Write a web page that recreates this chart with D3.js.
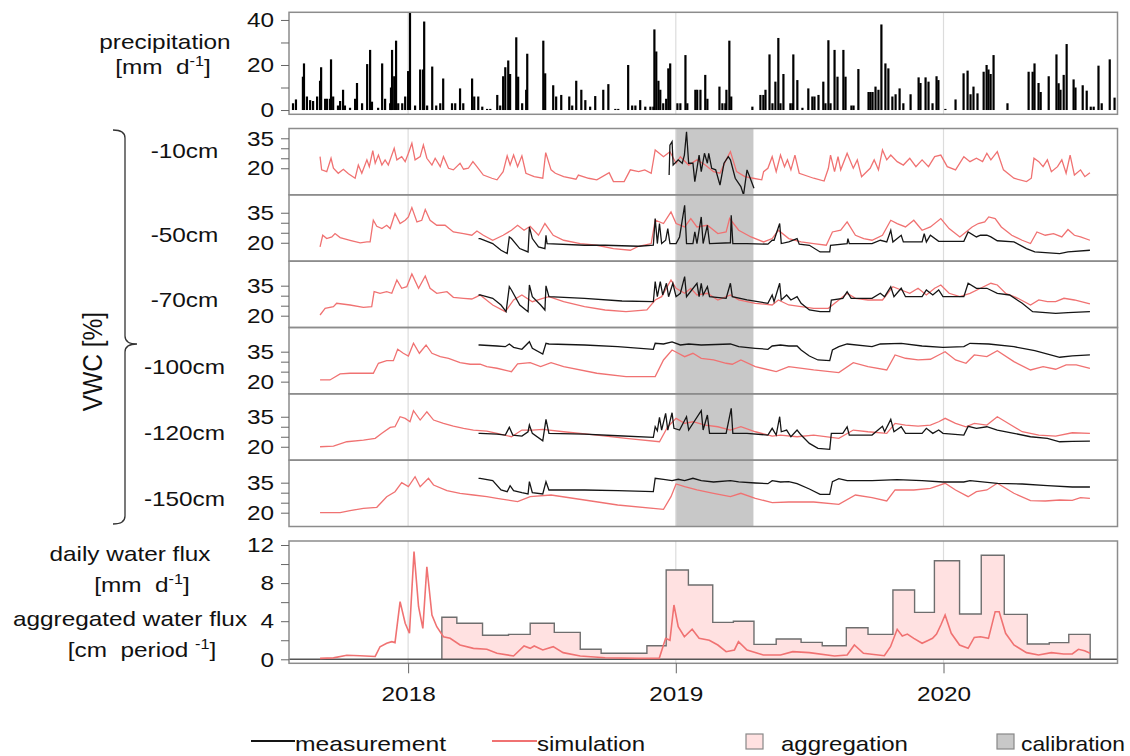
<!DOCTYPE html>
<html lang="en">
<head>
<meta charset="utf-8">
<title>Precipitation, soil water content and water flux</title>
<script src="https://cdn.jsdelivr.net/npm/d3@7"></script>
<style>
  body { margin: 0; background: #fff; }
  svg text { font-family: "Liberation Sans", Arial, sans-serif; fill: #111; }
</style>
</head>
<body>
<svg id="chart" width="1130" height="756"></svg>
<script>

// ---- data (time as decimal year) ----
var xDomain = [2017.555, 2020.65];
var yearTicks = [2018, 2019, 2020];
var calibration = [2019.0, 2019.29];

var precipTicks = [0, 10, 20, 30, 40];
var precipLabels = [0, 20, 40];
var vwcTicks = [20, 25, 30, 35];
var vwcLabels = [20, 35];
var fluxTicks = [0, 2, 4, 6, 8, 10, 12];
var fluxLabels = [0, 4, 8, 12];

var depths = ["-10cm", "-50cm", "-70cm", "-100cm", "-120cm", "-150cm"];
var vwcDomains = [[6.7, 39.9], [10.8, 43.95], [14.1, 47.25], [13.9, 47.1], [13.3, 46.45], [13.1, 46.25]];

var precip = [[2017.570,3],[2017.581,4.7],[2017.607,14.8],[2017.611,20.7],[2017.622,6],[2017.634,4.4],[2017.645,4],[2017.660,6],[2017.671,13],[2017.675,19],[2017.690,5],[2017.697,5],[2017.708,5],[2017.712,22.5],[2017.720,6],[2017.738,2],[2017.746,4],[2017.757,9],[2017.764,2],[2017.783,1],[2017.802,5],[2017.809,12],[2017.828,3],[2017.847,20.4],[2017.858,26.7],[2017.865,3.7],[2017.888,1],[2017.903,20.7],[2017.914,5],[2017.933,3],[2017.936,10],[2017.940,26.7],[2017.948,15],[2017.955,30.8],[2017.963,3],[2017.978,3],[2017.989,6],[2018.000,17.3],[2018.007,43.5],[2018.026,2],[2018.045,18],[2018.056,18],[2018.060,39.3],[2018.071,2],[2018.090,19.3],[2018.105,2],[2018.120,3],[2018.131,14],[2018.164,3],[2018.176,3],[2018.194,9.6],[2018.206,3],[2018.239,14],[2018.247,6],[2018.262,6],[2018.277,1.5],[2018.295,0.5],[2018.307,0.5],[2018.333,6.7],[2018.344,2],[2018.355,15],[2018.363,19],[2018.374,22],[2018.381,16],[2018.404,32.3],[2018.411,14.8],[2018.426,3],[2018.441,9],[2018.445,25],[2018.505,30.8],[2018.512,16.3],[2018.542,11],[2018.553,6],[2018.572,6.7],[2018.602,6],[2018.613,2],[2018.628,13],[2018.647,9],[2018.662,4.4],[2018.680,1.5],[2018.699,6.2],[2018.729,9],[2018.748,11.5],[2018.774,0.5],[2018.785,0.5],[2018.822,20],[2018.837,2],[2018.849,2],[2018.867,4.4],[2018.886,1.5],[2018.905,1.5],[2018.916,1.5],[2018.920,35.8],[2018.927,26],[2018.935,13],[2018.942,9],[2018.953,3],[2018.964,5],[2018.972,18.5],[2018.979,20.7],[2019.006,3],[2019.017,3],[2019.036,24.4],[2019.043,3],[2019.073,9],[2019.080,9],[2019.092,9],[2019.110,15.6],[2019.118,5],[2019.163,10.4],[2019.174,3],[2019.185,3],[2019.189,9],[2019.200,30.8],[2019.207,6],[2019.286,1.5],[2019.316,6.7],[2019.327,6.7],[2019.335,9],[2019.350,24.7],[2019.361,3],[2019.372,12.6],[2019.383,32],[2019.391,3],[2019.402,16],[2019.428,3],[2019.436,3],[2019.439,24.7],[2019.454,13.3],[2019.473,1],[2019.495,9.6],[2019.510,6],[2019.518,6],[2019.533,6.7],[2019.551,12.6],[2019.559,3],[2019.570,31],[2019.578,3],[2019.593,26.7],[2019.604,14.8],[2019.626,26.7],[2019.634,14.8],[2019.656,2],[2019.664,2],[2019.682,18.2],[2019.720,8],[2019.727,8],[2019.735,8],[2019.746,10.4],[2019.757,9],[2019.768,38],[2019.783,20.7],[2019.794,18.5],[2019.809,6],[2019.821,7],[2019.836,9.6],[2019.850,3],[2019.877,7],[2019.907,14.5],[2019.914,12],[2019.933,14.5],[2019.944,12.6],[2019.959,3],[2019.974,15],[2019.981,13.3],[2020.007,0.5],[2020.045,4.7],[2020.075,16.3],[2020.090,17.5],[2020.101,7],[2020.112,10.4],[2020.127,7.4],[2020.150,17],[2020.161,20],[2020.168,18],[2020.176,16],[2020.187,24.4],[2020.239,3],[2020.318,17],[2020.333,17],[2020.340,20.7],[2020.355,12],[2020.363,8],[2020.393,15],[2020.422,24.7],[2020.430,11.9],[2020.437,9],[2020.449,15.6],[2020.460,29.3],[2020.486,13.6],[2020.493,10],[2020.520,11],[2020.535,8.6],[2020.550,1.5],[2020.561,1.5],[2020.579,19.7],[2020.591,3],[2020.621,22.5],[2020.639,5.5]];

var sim10 = [[2017.671,25.8],[2017.677,19.2],[2017.696,18.3],[2017.712,25],[2017.721,20],[2017.739,17.5],[2017.758,19.5],[2017.777,17.2],[2017.802,15],[2017.814,21.6],[2017.827,17.5],[2017.846,24.2],[2017.855,20.8],[2017.868,28.8],[2017.877,22.5],[2017.889,26.6],[2017.902,21.6],[2017.914,24.2],[2017.926,21.6],[2017.948,30],[2017.958,24.2],[2017.976,25.8],[2017.989,23.3],[2018.001,27.5],[2018.014,32.5],[2018.026,24.2],[2018.045,25.8],[2018.057,31.6],[2018.070,25],[2018.089,21.6],[2018.101,25],[2018.120,20.8],[2018.132,25.8],[2018.151,20],[2018.169,19.2],[2018.194,22.5],[2018.207,19.5],[2018.225,20],[2018.242,23.3],[2018.257,20.8],[2018.281,16.6],[2018.313,15],[2018.332,14.2],[2018.355,18.3],[2018.370,26.2],[2018.381,21.6],[2018.394,26.6],[2018.409,20.8],[2018.425,26.2],[2018.440,17.5],[2018.471,15.8],[2018.503,15],[2018.514,27.8],[2018.534,19.2],[2018.550,17.5],[2018.581,15.8],[2018.627,14.5],[2018.636,16.6],[2018.674,15],[2018.705,14.2],[2018.751,17.8],[2018.767,13.3],[2018.807,13.3],[2018.830,19.2],[2018.861,18.3],[2018.884,19.2],[2018.908,17.5],[2018.923,29.2],[2018.954,25.8],[2018.978,28.3],[2019.001,22.5],[2019.017,25.8],[2019.048,21.6],[2019.079,24.2],[2019.110,21.6],[2019.141,18.3],[2019.165,17.5],[2019.188,24.2],[2019.204,28.3],[2019.227,18.3],[2019.258,15.8],[2019.289,15],[2019.321,14.2],[2019.328,18.3],[2019.344,20],[2019.360,25.8],[2019.375,18.3],[2019.391,26.6],[2019.406,20.8],[2019.417,24.2],[2019.430,19.2],[2019.445,26.6],[2019.461,17.5],[2019.515,15],[2019.554,13.6],[2019.570,20],[2019.578,26.6],[2019.593,18.3],[2019.606,25.8],[2019.616,19.2],[2019.640,27.5],[2019.663,20],[2019.678,24.2],[2019.694,15.8],[2019.726,20],[2019.741,24.2],[2019.757,19.2],[2019.772,29.2],[2019.788,24.2],[2019.803,26.6],[2019.827,23.3],[2019.850,21.6],[2019.874,25],[2019.897,20.8],[2019.920,24.2],[2019.944,20.8],[2019.967,25.8],[2019.990,26.6],[2020.014,20.8],[2020.045,19.2],[2020.076,25.8],[2020.099,23.3],[2020.123,25],[2020.146,23.3],[2020.162,27.5],[2020.177,24.2],[2020.201,28.3],[2020.224,19.2],[2020.263,15],[2020.310,13.3],[2020.328,15],[2020.338,25],[2020.356,23.3],[2020.372,20.8],[2020.388,24.2],[2020.403,18.3],[2020.426,20.8],[2020.442,24.2],[2020.458,17.5],[2020.473,26.6],[2020.489,16.6],[2020.512,19.2],[2020.528,15.8],[2020.547,17.8]];
var meas10 = [[2018.975,16.6],[2018.978,31.6],[2018.986,33.3],[2018.990,21.6],[2019.009,24.2],[2019.024,22.5],[2019.032,26.6],[2019.040,38.3],[2019.048,22.5],[2019.064,22.5],[2019.071,13.3],[2019.087,26.6],[2019.095,18.3],[2019.107,27.5],[2019.118,22.5],[2019.123,27.5],[2019.134,20],[2019.149,19.2],[2019.165,11.6],[2019.180,22.5],[2019.196,25.8],[2019.204,24.2],[2019.222,15],[2019.243,10.8],[2019.253,6.7],[2019.266,19.2],[2019.278,15],[2019.292,10]];

var sim50 = [[2017.671,17.9],[2017.681,23.75],[2017.696,22.1],[2017.715,22.9],[2017.727,24.6],[2017.746,22.6],[2017.783,21.25],[2017.821,19.9],[2017.846,20.4],[2017.858,20.4],[2017.870,31.25],[2017.883,28.25],[2017.902,27.1],[2017.920,28.75],[2017.933,27.1],[2017.951,34.6],[2017.970,29.6],[2017.989,31.25],[2018.001,32.9],[2018.014,37.6],[2018.033,30.4],[2018.051,31.25],[2018.064,36.6],[2018.082,31.25],[2018.107,28.75],[2018.138,28.75],[2018.169,25.4],[2018.207,24.6],[2018.238,23.75],[2018.257,25.9],[2018.281,23.75],[2018.316,21.25],[2018.355,23.75],[2018.386,26.25],[2018.409,28.75],[2018.433,26.25],[2018.456,28.25],[2018.487,23.75],[2018.511,29.6],[2018.542,23.75],[2018.581,21.25],[2018.643,19.6],[2018.705,18.75],[2018.767,17.1],[2018.830,16.25],[2018.861,18.25],[2018.908,19.6],[2018.923,31.25],[2018.954,29.6],[2018.982,35.4],[2019.001,29.6],[2019.033,27.9],[2019.056,32.1],[2019.079,27.9],[2019.118,28.75],[2019.157,24.6],[2019.188,25.4],[2019.201,32.1],[2019.235,26.25],[2019.281,22.9],[2019.328,20.4],[2019.360,22.1],[2019.383,26.25],[2019.422,22.1],[2019.468,20.4],[2019.515,19.6],[2019.562,18.75],[2019.585,25.4],[2019.616,26.25],[2019.640,30.4],[2019.671,23.75],[2019.702,22.1],[2019.733,21.25],[2019.772,23.75],[2019.803,31.25],[2019.827,29.6],[2019.858,27.9],[2019.889,31.25],[2019.920,26.25],[2019.951,27.9],[2019.990,32.1],[2020.021,27.1],[2020.061,22.9],[2020.084,25.4],[2020.107,27.9],[2020.130,29.6],[2020.154,30.4],[2020.169,32.9],[2020.193,32.1],[2020.216,27.9],[2020.255,23.75],[2020.294,21.25],[2020.325,19.6],[2020.349,25.4],[2020.380,23.75],[2020.411,24.6],[2020.442,22.9],[2020.465,26.6],[2020.489,23.75],[2020.512,22.9],[2020.547,21.25]];
var meas50 = [[2018.263,22.1],[2018.269,22.1],[2018.316,19.6],[2018.347,16.25],[2018.370,14.6],[2018.378,22.9],[2018.386,22.1],[2018.417,17.1],[2018.448,15.4],[2018.453,27.9],[2018.464,22.1],[2018.487,17.9],[2018.511,17.1],[2018.515,23.75],[2018.519,19.6],[2018.659,18.75],[2018.736,18.75],[2018.861,18.25],[2018.916,18.75],[2018.923,32.1],[2018.931,19.6],[2018.939,29.6],[2018.947,19.6],[2018.962,21.25],[2018.970,27.1],[2018.978,19.6],[2019.001,19.6],[2019.014,22.9],[2019.033,38.75],[2019.040,19.6],[2019.064,19.6],[2019.071,25.4],[2019.079,19.6],[2019.095,32.9],[2019.102,19.6],[2019.118,28.75],[2019.126,19.6],[2019.204,20],[2019.207,33.75],[2019.213,19.6],[2019.266,19.6],[2019.344,19.3],[2019.360,21.25],[2019.367,21.25],[2019.388,29.6],[2019.394,19.6],[2019.422,20.4],[2019.453,22.1],[2019.461,19.3],[2019.499,18.75],[2019.539,15.4],[2019.575,15.4],[2019.578,18.75],[2019.640,19.6],[2019.643,22.1],[2019.648,19.6],[2019.733,19.6],[2019.764,21.25],[2019.788,20.4],[2019.803,26.25],[2019.811,20.4],[2019.842,23.75],[2019.850,20.4],[2019.920,20.4],[2019.928,24.6],[2019.936,20.4],[2019.951,23.75],[2019.982,20.7],[2019.998,20.7],[2020.076,20.7],[2020.092,25.4],[2020.123,22.9],[2020.138,23.75],[2020.162,23.75],[2020.177,22.9],[2020.201,21],[2020.263,20.4],[2020.310,17.1],[2020.341,15.4],[2020.434,14.6],[2020.465,15.4],[2020.547,16.25]];

var sim70 = [[2017.671,20.35],[2017.690,23.7],[2017.721,24.5],[2017.733,26.2],[2017.783,25.35],[2017.833,24.2],[2017.864,24.5],[2017.873,32],[2017.895,31.2],[2017.920,32],[2017.939,31.2],[2017.958,37.85],[2017.976,33.7],[2017.995,34.5],[2018.014,40.85],[2018.039,33.7],[2018.064,39.85],[2018.082,33.7],[2018.107,31.2],[2018.145,32],[2018.169,29.2],[2018.207,28.7],[2018.238,28.35],[2018.257,29.5],[2018.269,30.35],[2018.316,25.35],[2018.363,22],[2018.394,27.85],[2018.425,30.35],[2018.464,27],[2018.503,28.7],[2018.526,29.5],[2018.581,27],[2018.659,24.5],[2018.736,22.85],[2018.814,22],[2018.892,22.85],[2018.923,27.85],[2018.947,29.5],[2018.982,37.85],[2019.001,33.7],[2019.033,31.2],[2019.056,33.7],[2019.079,30.35],[2019.118,31.2],[2019.157,27.85],[2019.204,30.35],[2019.235,27.85],[2019.297,26.2],[2019.360,25.35],[2019.383,27.85],[2019.422,25.35],[2019.468,24.5],[2019.515,23.7],[2019.570,23.7],[2019.609,27.85],[2019.640,31.2],[2019.671,28.7],[2019.718,27.85],[2019.772,27.85],[2019.811,34.5],[2019.842,32.85],[2019.874,31.2],[2019.905,33.7],[2019.936,30.35],[2019.967,33.7],[2019.990,35.35],[2020.021,31.2],[2020.061,29.5],[2020.099,31.2],[2020.138,33.7],[2020.177,36.2],[2020.201,35.35],[2020.232,31.2],[2020.278,28.7],[2020.325,25.35],[2020.356,27.85],[2020.388,27],[2020.419,27],[2020.450,28.7],[2020.489,27.85],[2020.547,25.85]];
var meas70 = [[2018.263,30.35],[2018.269,30.35],[2018.316,28.7],[2018.347,25.35],[2018.366,22],[2018.378,34.5],[2018.386,32.85],[2018.417,25.35],[2018.448,22],[2018.453,35.35],[2018.464,29.5],[2018.495,25.35],[2018.511,22.85],[2018.515,34.9],[2018.526,29.5],[2018.659,28.7],[2018.799,27.35],[2018.916,27],[2018.923,37],[2018.931,29.5],[2018.942,37],[2018.951,30.35],[2018.965,36.2],[2018.973,29.5],[2018.989,36.2],[2019.001,29.5],[2019.017,31.2],[2019.033,39.5],[2019.040,29.5],[2019.079,36.2],[2019.087,29.5],[2019.095,36.2],[2019.102,30.35],[2019.118,34.5],[2019.126,29.5],[2019.188,28.7],[2019.204,36.2],[2019.211,29.5],[2019.266,27.85],[2019.344,26.2],[2019.360,30.35],[2019.367,27],[2019.388,36.2],[2019.394,27.85],[2019.414,30.35],[2019.430,27.85],[2019.453,29.5],[2019.468,26.2],[2019.499,22.85],[2019.539,22],[2019.575,22],[2019.581,27.85],[2019.624,28.7],[2019.640,32],[2019.655,28.7],[2019.733,28.7],[2019.764,31.2],[2019.780,29.5],[2019.803,34.5],[2019.815,29.5],[2019.842,33.7],[2019.858,29.5],[2019.920,29.5],[2019.936,32.85],[2019.960,30.35],[2019.982,32.85],[2019.998,29.5],[2020.076,29.5],[2020.092,36.2],[2020.123,33.7],[2020.162,33.7],[2020.201,31.2],[2020.247,30.35],[2020.294,26.2],[2020.333,22],[2020.419,21.2],[2020.465,21.5],[2020.547,22]];

var sim100 = [[2017.671,20.85],[2017.708,20.85],[2017.746,23.85],[2017.783,24.2],[2017.870,24.2],[2017.889,29.2],[2017.920,30.5],[2017.945,30.5],[2017.961,36.2],[2017.982,34.2],[2018.001,32.85],[2018.020,39.2],[2018.042,34.2],[2018.067,38.35],[2018.089,34.2],[2018.120,32.5],[2018.151,31.7],[2018.194,29.5],[2018.232,28.7],[2018.269,28.7],[2018.294,27.5],[2018.332,26.7],[2018.386,25],[2018.409,28.85],[2018.456,29.5],[2018.495,27.5],[2018.534,29.5],[2018.581,27.5],[2018.705,24.2],[2018.814,22.5],[2018.923,22.5],[2018.954,30.85],[2018.986,35.85],[2019.009,34.2],[2019.033,32.5],[2019.064,34.2],[2019.095,31.7],[2019.141,30.85],[2019.188,29.2],[2019.211,28.7],[2019.243,30.85],[2019.297,27.5],[2019.375,25],[2019.422,27.5],[2019.515,25.85],[2019.609,24.5],[2019.663,29.5],[2019.718,27.5],[2019.788,25.85],[2019.819,33.35],[2019.858,31.7],[2019.905,30.85],[2019.951,31.2],[2019.982,33.35],[2020.006,35],[2020.045,30.85],[2020.084,29.2],[2020.115,33.35],[2020.162,32.5],[2020.201,35.5],[2020.263,30],[2020.325,25.85],[2020.372,27.5],[2020.419,26.2],[2020.458,28.35],[2020.496,28.35],[2020.547,26.7]];
var meas100 = [[2018.263,38.35],[2018.269,38.35],[2018.332,37.85],[2018.363,37.5],[2018.378,38.85],[2018.394,37.2],[2018.425,36.2],[2018.453,40],[2018.464,36.7],[2018.503,33.85],[2018.515,39.2],[2018.526,38.85],[2018.659,38.35],[2018.783,37.5],[2018.916,36.2],[2018.923,39.2],[2018.954,38.85],[2018.986,39.85],[2019.017,38.35],[2019.048,38.85],[2019.095,38.35],[2019.204,38.85],[2019.235,37.5],[2019.297,36.7],[2019.344,36.2],[2019.360,37.85],[2019.391,38.35],[2019.422,37.85],[2019.453,37.85],[2019.468,35.85],[2019.499,32.85],[2019.531,30.85],[2019.575,30.5],[2019.585,35.85],[2019.609,37.5],[2019.640,38.85],[2019.733,37.5],[2019.764,38.85],[2019.842,39.2],[2019.920,37.85],[2019.998,37.2],[2020.076,37.5],[2020.099,39.2],[2020.169,38.85],[2020.263,37.5],[2020.341,35.5],[2020.434,32.2],[2020.481,32.85],[2020.547,33.35]];

var sim120 = [[2017.671,20],[2017.721,20.3],[2017.771,22.5],[2017.833,23.35],[2017.877,24.2],[2017.902,26.7],[2017.933,29.7],[2017.951,30],[2017.970,35],[2017.989,34.2],[2018.007,32.5],[2018.020,38],[2018.045,33.35],[2018.070,37.5],[2018.095,33.35],[2018.132,31.7],[2018.169,30.35],[2018.207,29.2],[2018.244,28.35],[2018.294,27.85],[2018.332,26.7],[2018.386,25],[2018.425,28.35],[2018.464,28.35],[2018.503,28.7],[2018.581,27.5],[2018.705,25.85],[2018.814,24.2],[2018.939,22.5],[2018.970,30],[2019.001,34.2],[2019.033,31.7],[2019.064,32.5],[2019.110,30.85],[2019.157,30],[2019.204,28.35],[2019.243,30],[2019.297,27.5],[2019.360,25.35],[2019.391,25.85],[2019.453,25],[2019.515,25.85],[2019.609,24.2],[2019.663,28.35],[2019.718,27.5],[2019.788,26.7],[2019.819,31.7],[2019.858,30.85],[2019.905,30.35],[2019.951,30.85],[2019.982,32.5],[2020.006,34.2],[2020.045,31.7],[2020.084,30],[2020.115,31.7],[2020.162,30.85],[2020.201,35],[2020.232,32.5],[2020.294,27.5],[2020.356,25.85],[2020.419,25.35],[2020.481,27],[2020.547,26.7]];
var meas120 = [[2018.263,26.7],[2018.269,26.7],[2018.332,26.35],[2018.363,25.85],[2018.378,29.7],[2018.391,25.85],[2018.425,25.35],[2018.448,27.5],[2018.453,30.85],[2018.464,26.7],[2018.503,23],[2018.515,33.7],[2018.526,26.7],[2018.659,26.35],[2018.783,25.5],[2018.916,24.7],[2018.923,30],[2018.931,28],[2018.939,34.7],[2018.947,28.35],[2018.962,36.7],[2018.970,28.35],[2018.986,37],[2018.993,29.2],[2019.014,28.35],[2019.040,35],[2019.048,28.35],[2019.095,38],[2019.102,28.35],[2019.118,35.85],[2019.126,26.7],[2019.188,26.7],[2019.207,39.2],[2019.213,26.7],[2019.266,26.7],[2019.344,25.85],[2019.360,29.2],[2019.375,25.85],[2019.388,35],[2019.394,27.5],[2019.414,28.35],[2019.430,25],[2019.453,28.35],[2019.468,25.85],[2019.499,21.7],[2019.531,19.2],[2019.575,18.7],[2019.581,26.7],[2019.624,26.7],[2019.640,30],[2019.648,25.85],[2019.733,25.85],[2019.772,30.2],[2019.780,27.5],[2019.803,33.7],[2019.815,27.5],[2019.842,30],[2019.858,26.7],[2019.920,26.7],[2019.936,29.2],[2019.960,26.7],[2019.982,28.35],[2019.998,26.7],[2020.076,25.85],[2020.092,30.2],[2020.123,29.2],[2020.162,30],[2020.201,28.35],[2020.263,26.7],[2020.325,25],[2020.388,24.2],[2020.434,22.5],[2020.481,22.7],[2020.547,22.85]];

var sim150 = [[2017.671,20],[2017.746,20],[2017.783,21],[2017.833,22.2],[2017.883,22.7],[2017.920,28],[2017.951,30.5],[2017.976,35],[2018.001,33],[2018.026,38],[2018.045,33],[2018.076,37.2],[2018.095,33.85],[2018.145,31],[2018.194,29.7],[2018.244,28.85],[2018.294,28],[2018.332,27.2],[2018.409,25.5],[2018.456,28],[2018.534,28.85],[2018.659,26.35],[2018.783,23.85],[2018.954,21.7],[2018.982,28],[2019.001,34.35],[2019.033,33],[2019.079,31.35],[2019.141,29.7],[2019.204,28],[2019.243,29.7],[2019.297,27.2],[2019.360,25],[2019.422,25.35],[2019.515,25.35],[2019.609,24.2],[2019.671,28.85],[2019.733,27.5],[2019.788,25.85],[2019.819,31.35],[2019.889,31.35],[2019.951,32.2],[2020.006,34.7],[2020.045,31.35],[2020.092,28],[2020.123,30.5],[2020.162,31.35],[2020.201,34.7],[2020.263,29.7],[2020.325,26],[2020.380,25.85],[2020.434,26.35],[2020.481,26.2],[2020.512,27.5],[2020.547,27.2]];
var meas150 = [[2018.263,37.2],[2018.269,37.2],[2018.316,36],[2018.347,31.35],[2018.370,30.5],[2018.381,33.5],[2018.394,31],[2018.425,30],[2018.448,29.35],[2018.453,35.5],[2018.464,30],[2018.503,29.35],[2018.515,35.5],[2018.526,31.35],[2018.659,31.35],[2018.783,31],[2018.916,30.5],[2018.923,37.2],[2018.954,36.7],[2018.986,36],[2019.009,36.7],[2019.033,36],[2019.064,37.2],[2019.095,36],[2019.141,35.35],[2019.204,36],[2019.235,35.35],[2019.297,34.85],[2019.344,34.5],[2019.360,36],[2019.391,35.35],[2019.422,35.5],[2019.453,34.5],[2019.499,31.85],[2019.539,29.2],[2019.575,29.2],[2019.585,35.5],[2019.609,37],[2019.640,36],[2019.733,36],[2019.827,36.5],[2019.920,36],[2019.998,35.35],[2020.076,35.35],[2020.099,36],[2020.201,34.7],[2020.294,34.35],[2020.388,33.5],[2020.481,32.85],[2020.547,32.85]];

var fluxSim = [[2017.671,0.1],[2017.721,0.15],[2017.771,0.42],[2017.821,0.38],[2017.877,0.3],[2017.895,1.32],[2017.920,1.68],[2017.939,1.85],[2017.951,1.75],[2017.970,6.05],[2017.989,3.78],[2018.005,2.73],[2018.022,11.3],[2018.039,5.52],[2018.055,3.25],[2018.070,9.72],[2018.089,4.65],[2018.107,3.42],[2018.132,2.37],[2018.157,2.2],[2018.194,1.5],[2018.244,1.15],[2018.294,1.05],[2018.332,0.63],[2018.394,0.35],[2018.433,1.4],[2018.456,1.15],[2018.471,1.4],[2018.503,0.98],[2018.542,1.33],[2018.579,0.7],[2018.643,0.35],[2018.736,0.17],[2018.860,0.1],[2018.938,0.1],[2018.962,2.2],[2018.978,2.0],[2018.993,5.7],[2019.009,3.42],[2019.032,2.37],[2019.061,3.15],[2019.087,2.2],[2019.125,2.0],[2019.157,1.5],[2019.188,0.8],[2019.219,0.98],[2019.234,1.85],[2019.266,0.98],[2019.327,0.45],[2019.391,0.45],[2019.437,0.8],[2019.499,0.7],[2019.593,0.35],[2019.640,0.45],[2019.667,1.5],[2019.701,0.63],[2019.779,0.38],[2019.802,1.32],[2019.827,3.15],[2019.846,2.45],[2019.865,2.65],[2019.889,2.2],[2019.920,1.68],[2019.944,2.0],[2019.959,2.2],[2019.974,2.65],[2019.990,3.6],[2020.006,4.65],[2020.029,2.73],[2020.060,1.5],[2020.092,1.15],[2020.115,2.3],[2020.138,2.37],[2020.168,2.2],[2020.193,5.0],[2020.208,5.0],[2020.232,2.73],[2020.263,1.5],[2020.310,0.7],[2020.355,0.45],[2020.403,0.7],[2020.449,0.56],[2020.481,0.56],[2020.504,1.05],[2020.527,0.9],[2020.548,0.63]];

var aggEdges = [2018.126, 2018.182, 2018.278, 2018.375, 2018.456, 2018.546, 2018.643, 2018.721, 2018.892, 2018.964, 2019.047, 2019.138, 2019.215, 2019.292, 2019.375, 2019.468, 2019.547, 2019.637, 2019.718, 2019.811, 2019.892, 2019.966, 2020.060, 2020.141, 2020.227, 2020.313, 2020.395, 2020.468, 2020.548];
var aggValues = [4.41, 3.78, 2.52, 2.62, 3.78, 2.83, 1.05, 0.63, 1.43, 9.37, 7.8, 3.88, 3.99, 1.57, 2.13, 1.78, 1.43, 3.32, 2.62, 7.28, 4.93, 10.35, 4.76, 10.92, 4.72, 1.61, 1.75, 2.62];

var legendItems = ["measurement", "simulation", "aggregation", "calibration"];

// ---- layout ----
var LEFT = 289, RIGHT = 1117.5;
var PRECIP_TOP = 12.3, PRECIP_BOTTOM = 114.3;
var VWC_TOP = 128.5, VWC_BOTTOM = 526.5;
var FLUX_TOP = 541, FLUX_BOTTOM = 663.3;
var SX = 1.16;               // text in the original is a bit wide
var RED = "#f07272";
var BOX = "#8c8c8c";

var svg = d3.select("#chart");
var x = d3.scaleLinear().domain(xDomain).range([LEFT, RIGHT]);

function widen(sel) {
  sel.each(function () {
    var t = d3.select(this);
    t.attr("x", (+t.attr("x") || 0) / SX).attr("transform", "scale(" + SX + ",1)");
  });
}

function yAxis(y, ticks, labels) {
  var g = svg.append("g").attr("transform", "translate(" + LEFT + ",0)")
    .call(d3.axisLeft(y).tickValues(ticks).tickSize(8).tickPadding(7)
      .tickFormat(function (d) { return labels.indexOf(d) >= 0 ? d : ""; }));
  g.attr("font-size", 21).attr("font-family", null);
  g.select(".domain").remove();
  g.selectAll(".tick line").attr("stroke", "#666");
  g.selectAll(".tick text").attr("fill", "#111");
  widen(g.selectAll(".tick text"));
}

function grid(top, bottom) {
  svg.append("g").selectAll("line").data(yearTicks).join("line")
    .attr("x1", function (d) { return x(d); }).attr("x2", function (d) { return x(d); })
    .attr("y1", top).attr("y2", bottom)
    .attr("stroke", "#dcdcdc").attr("stroke-width", 1.2);
}

function frame(top, bottom) {
  svg.append("rect").attr("x", LEFT).attr("y", top)
    .attr("width", RIGHT - LEFT).attr("height", bottom - top)
    .attr("fill", "none").attr("stroke", BOX).attr("stroke-width", 1.5);
}

function clip(id, top, bottom) {
  svg.append("clipPath").attr("id", id).append("rect")
    .attr("x", LEFT).attr("y", top).attr("width", RIGHT - LEFT).attr("height", bottom - top);
}

// text with optional superscripts: parts = [[text, isSup], ...]
function label(xc, yb, parts, size) {
  var t = svg.append("text").attr("x", xc).attr("y", yb).attr("text-anchor", "middle")
    .attr("font-size", size || 21).style("white-space", "pre");
  var up = false;
  parts.forEach(function (p) {
    var s = t.append("tspan").text(p[0]);
    if (p[1]) { s.attr("font-size", 14).attr("dy", -8); up = true; }
    else if (up) { s.attr("dy", 8); up = false; }
  });
  widen(t);
  return t;
}

// ---- precipitation ----
var yP = d3.scaleLinear().domain([-1.9, 43.4]).range([PRECIP_BOTTOM, PRECIP_TOP]);
clip("clipP", PRECIP_TOP, PRECIP_BOTTOM);
grid(PRECIP_TOP, PRECIP_BOTTOM);
svg.append("g").attr("clip-path", "url(#clipP)")
  .selectAll("rect").data(precip).join("rect")
  .attr("x", function (d) { return x(d[0]) - 1.1; })
  .attr("width", 2.2)
  .attr("y", function (d) { return yP(d[1]); })
  .attr("height", function (d) { return yP(0) - yP(d[1]); })
  .attr("fill", "#000");
frame(PRECIP_TOP, PRECIP_BOTTOM);
yAxis(yP, precipTicks, precipLabels);
label(165, 49, [["precipitation"]]);
label(163, 74, [["[mm  d"], ["-1", true], ["]"]]);

// ---- soil water content panels ----
var vwcSim = [sim10, sim50, sim70, sim100, sim120, sim150];
var vwcMeas = [meas10, meas50, meas70, meas100, meas120, meas150];
var depthBaselines = [158, 242, 307, 374, 440, 506];
var panelH = (VWC_BOTTOM - VWC_TOP) / depths.length;

svg.append("rect")
  .attr("x", x(calibration[0])).attr("width", x(calibration[1]) - x(calibration[0]))
  .attr("y", VWC_TOP).attr("height", VWC_BOTTOM - VWC_TOP)
  .attr("fill", "#c8c8c8");
grid(VWC_TOP, VWC_BOTTOM);

depths.forEach(function (name, i) {
  var top = VWC_TOP + i * panelH, bottom = top + panelH;
  var y = d3.scaleLinear().domain(vwcDomains[i]).range([bottom, top]);
  var line = d3.line().x(function (d) { return x(d[0]); }).y(function (d) { return y(d[1]); });
  clip("clipV" + i, top, bottom);
  var g = svg.append("g").attr("clip-path", "url(#clipV" + i + ")");
  g.append("path").datum(vwcSim[i]).attr("d", line)
    .attr("fill", "none").attr("stroke", RED).attr("stroke-width", 1.3);
  g.append("path").datum(vwcMeas[i]).attr("d", line)
    .attr("fill", "none").attr("stroke", "#151515").attr("stroke-width", 1.3);
  frame(top, bottom);
  yAxis(y, vwcTicks, vwcLabels);
  label(184.5, depthBaselines[i], [[name]]);
});

// brace and axis title for the VWC block
svg.append("path")
  .attr("d", "M113,130 Q125,130 125,138 L125,336 Q125,344 137,344 Q125,344 125,352 L125,516 Q125,524 113,524")
  .attr("fill", "none").attr("stroke", "#333").attr("stroke-width", 1.3);
svg.append("text").attr("text-anchor", "middle").attr("font-size", 24.5)
  .attr("transform", "translate(101.5,361.5) rotate(-90) scale(1," + SX + ")")
  .text("VWC [%]");

// ---- water flux ----
var yF = d3.scaleLinear().domain([-0.42, 12.42]).range([FLUX_BOTTOM, FLUX_TOP]);
clip("clipF", FLUX_TOP, FLUX_BOTTOM);
grid(FLUX_TOP, FLUX_BOTTOM);

var steps = aggValues.map(function (v, i) { return [aggEdges[i], v]; });
steps.push([aggEdges[aggEdges.length - 1], aggValues[aggValues.length - 1]]);
var gF = svg.append("g").attr("clip-path", "url(#clipF)");
gF.append("path").datum(steps)
  .attr("d", d3.area().curve(d3.curveStepAfter)
    .x(function (d) { return x(d[0]); }).y0(yF(0)).y1(function (d) { return yF(d[1]); }))
  .attr("fill", "#ffe1e1");
var outline = [[aggEdges[0], 0]].concat(steps, [[aggEdges[aggEdges.length - 1], 0]]);
gF.append("path").datum(outline)
  .attr("d", d3.line().curve(d3.curveStepAfter)
    .x(function (d) { return x(d[0]); }).y(function (d) { return yF(d[1]); }))
  .attr("fill", "none").attr("stroke", "#6e6e6e").attr("stroke-width", 1.4);
gF.append("line").attr("x1", LEFT).attr("x2", RIGHT).attr("y1", yF(0)).attr("y2", yF(0))
  .attr("stroke", "#555").attr("stroke-width", 1.4);
gF.append("path").datum(fluxSim)
  .attr("d", d3.line().x(function (d) { return x(d[0]); }).y(function (d) { return yF(d[1]); }))
  .attr("fill", "none").attr("stroke", RED).attr("stroke-width", 1.6);
frame(FLUX_TOP, FLUX_BOTTOM);
yAxis(yF, fluxTicks, fluxLabels);
label(130, 561, [["daily water flux"]]);
label(142, 592, [["[mm  d"], ["-1", true], ["]"]]);
label(130, 626, [["aggregated water flux"]]);
label(142, 657, [["[cm  period "], ["-1", true], ["]"]]);

// ---- time axis ----
var gx = svg.append("g").attr("transform", "translate(0," + FLUX_BOTTOM + ")")
  .call(d3.axisBottom(x).tickValues(yearTicks).tickFormat(d3.format("d")).tickSize(10).tickPadding(13));
gx.attr("font-size", 21).attr("font-family", null);
gx.select(".domain").remove();
gx.selectAll(".tick line").attr("stroke", "#666");
gx.selectAll(".tick text").attr("fill", "#111");
widen(gx.selectAll(".tick text"));

// ---- legend ----
var lg = svg.append("g");
lg.append("line").attr("x1", 251).attr("x2", 295).attr("y1", 741).attr("y2", 741)
  .attr("stroke", "#151515").attr("stroke-width", 2);
lg.append("line").attr("x1", 492).attr("x2", 537).attr("y1", 741).attr("y2", 741)
  .attr("stroke", RED).attr("stroke-width", 2);
lg.append("rect").attr("x", 746).attr("y", 734).attr("width", 17).attr("height", 15)
  .attr("fill", "#ffe1e1").attr("stroke", "#888").attr("stroke-width", 1.2);
lg.append("rect").attr("x", 997).attr("y", 734).attr("width", 17).attr("height", 15)
  .attr("fill", "#c8c8c8").attr("stroke", "#888").attr("stroke-width", 1.2);
var legendX = [295, 537, 781, 1021];
var legendW = [151, 108, 127, 104];
legendItems.forEach(function (name, i) {
  lg.append("text").attr("x", legendX[i]).attr("y", 751).attr("font-size", 21)
    .attr("textLength", legendW[i]).attr("lengthAdjust", "spacingAndGlyphs")
    .text(name);
});

</script>
</body>
</html>
